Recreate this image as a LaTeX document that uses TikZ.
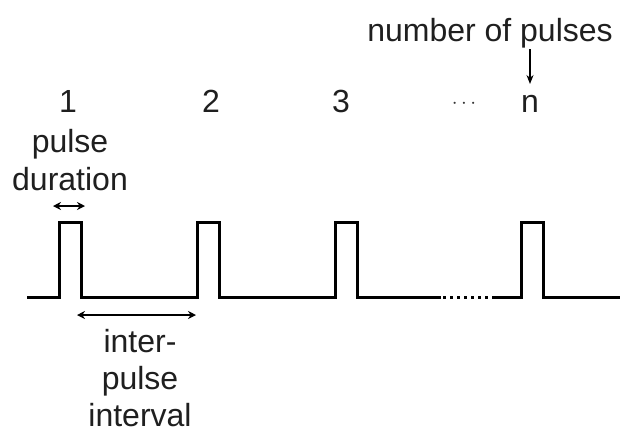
\documentclass[tikz,border=0pt]{standalone}
\usepackage{fontspec}
\setmainfont{Liberation Sans}
\usetikzlibrary{arrows.meta}
\begin{document}
\begin{tikzpicture}[x=1pt,y=-1pt,
  lbl/.style={anchor=base, inner sep=0pt, text=black!88, font=\fontsize{32}{38}\selectfont},
  wave/.style={line width=3pt, line join=miter},
  dimarrow/.style={line width=1.5pt, {Stealth[length=8pt,width=8pt]}-{Stealth[length=8pt,width=8pt]}},
  downarrow/.style={line width=1.3pt, -{Stealth[length=9pt,width=7pt]}}]
\useasboundingbox[fill=white] (0,0) rectangle (620,432);
% waveform
\draw[wave] (27,297) -| (59,222) -| (81,297) -| (197,222) -| (219,297) -| (335,222) -| (357,297) -- (441,297);
\draw[wave, dash pattern=on 3pt off 4pt] (443,297) -- (492,297);
\draw[wave] (492,297) -| (521,222) -| (543,297) -- (620,297);
% pulse numbers
\node[lbl] (p1) at (68,112) {1};
\node[lbl] (p2) at (211,112) {2};
\node[lbl] (p3) at (341,112) {3};
\node[inner sep=0pt, text=black!80, font=\fontsize{21}{24}\selectfont] (pd) at (464,104) {$\cdots$};
\node[lbl] (pn) at (530,112) {n};
% number of pulses
\node[lbl] (np) at (490,41) {number of pulses};
\coordinate (npa) at (530,49);
\coordinate (npb) at (530,84);
\draw[downarrow] (npa) -- (npb);
% pulse duration
\node[lbl] (pu) at (70,152) {pulse};
\node[lbl] (du) at (70,190) {duration};
\coordinate (da) at (53,206);
\coordinate (db) at (85,206);
\draw[dimarrow] (da) -- (db);
% inter-pulse interval
\coordinate (ia) at (77,315);
\coordinate (ib) at (196,315);
\draw[dimarrow] (ia) -- (ib);
\node[lbl] (i1) at (140,352) {inter-};
\node[lbl] (i2) at (140,389) {pulse};
\node[lbl] (i3) at (140,426) {interval};
\end{tikzpicture}
\end{document}
